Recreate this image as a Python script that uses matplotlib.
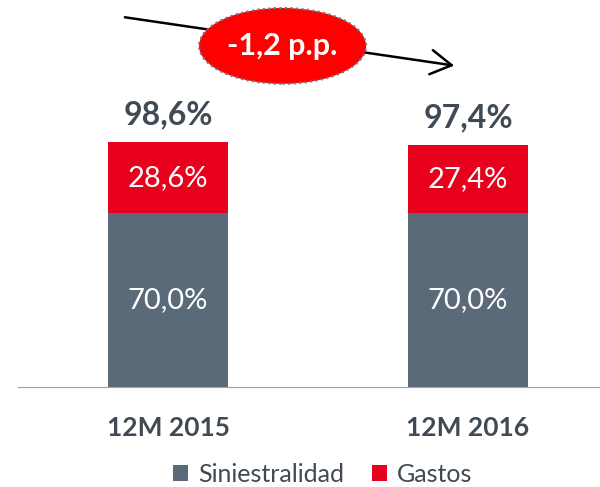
import matplotlib.pyplot as plt
from matplotlib.patches import Ellipse

categories = ["12M 2015", "12M 2016"]
siniestralidad = [70.0, 70.0]
gastos = [28.6, 27.4]
totals = [98.6, 97.4]
change_label = "-1,2 p.p."

GRAY = "#5B6A79"
RED = "#E8001C"
DARK = "#404A54"

plt.rcParams["font.family"] = ["Lato", "DejaVu Sans"]


def fmt(v):
    return f"{v:.1f}%".replace(".", ",")


fig = plt.figure(figsize=(6, 4.87), dpi=100)
ax = fig.add_axes([0.03, 100 / 487, 0.97, 387 / 487])
x = list(range(len(categories)))
ax.bar(x, siniestralidad, width=0.4, color=GRAY, label="Siniestralidad")
ax.bar(x, gastos, width=0.4, bottom=siniestralidad, color=RED, label="Gastos")
ax.set_xlim(-0.5, 1.44)
ax.set_ylim(0, 156)

for i in x:
    ax.text(i, siniestralidad[i] / 2, fmt(siniestralidad[i]), ha="center", va="center",
            color="white", fontsize=21)
    ax.text(i, siniestralidad[i] + gastos[i] / 2, fmt(gastos[i]), ha="center", va="center",
            color="white", fontsize=21)
    ax.text(i, totals[i] + 11, fmt(totals[i]), ha="center", va="center",
            color=DARK, fontsize=23, fontweight="bold")
    ax.text(i, -16.5, categories[i], ha="center", va="center",
            color=DARK, fontsize=19, fontweight="bold")

for s in ["top", "right", "left"]:
    ax.spines[s].set_visible(False)
ax.spines["bottom"].set_color("#A0A0A0")
ax.set_xticks([])
ax.set_yticks([])

# change arrow with ellipse badge
ax.annotate("", xy=(0.963, 129.4), xytext=(-0.153, 149.2),
            arrowprops=dict(arrowstyle="->,head_length=0.6,head_width=0.35",
                            color="black", lw=1.8, mutation_scale=25),
            annotation_clip=False)
ell = Ellipse((0.382, 137.5), 0.557, 30.6, facecolor="#FF0000",
              edgecolor="#6A7A8A", linestyle=":", lw=1.5, clip_on=False, zorder=5)
ax.add_patch(ell)
ax.text(0.382, 137.5, change_label, ha="center", va="center", color="white",
        fontsize=22, fontweight="bold", zorder=6)

fig.legend(loc="center", bbox_to_anchor=(0.538, 13 / 487), ncol=2, frameon=False,
           fontsize=18, handlelength=0.6, handleheight=0.6, handletextpad=0.4,
           columnspacing=1.1, labelcolor=DARK)

fig.savefig("out.png", dpi=100)
